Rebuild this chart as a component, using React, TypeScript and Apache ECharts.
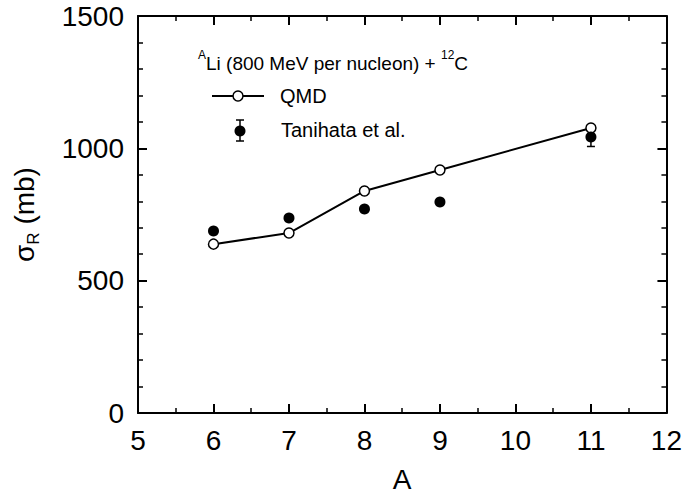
import React, { useEffect, useRef } from "react";
import * as echarts from "echarts";

const qmdA = [6, 7, 8, 9, 11];
const qmdSigma = [638, 680, 839, 918, 1077];
const expA = [6, 7, 8, 9, 11];
const expSigma = [688, 737, 771, 797, 1043];
const expErr = [0, 0, 0, 0, 36];

const FONT = "Liberation Sans, Arial, sans-serif";

export default function App() {
  const ref = useRef<HTMLDivElement>(null);
  useEffect(() => {
    if (!ref.current) return;
    const chart = echarts.init(ref.current, undefined, { renderer: "svg" });
    const tickCommon = {
      axisLine: { show: true, onZero: false, lineStyle: { color: "#000", width: 2 } },
      axisTick: { show: true, inside: true, length: 9, lineStyle: { color: "#000", width: 2 } },
      splitLine: { show: false },
    };
    const xBase = {
      type: "value" as const,
      min: 5,
      max: 12,
      interval: 1,
      ...tickCommon,
      minorTick: { show: true, splitNumber: 2, length: 5, lineStyle: { color: "#000", width: 1.5 } },
    };
    const yBase = {
      type: "value" as const,
      min: 0,
      max: 1500,
      interval: 500,
      ...tickCommon,
      minorTick: { show: true, splitNumber: 5, length: 5, lineStyle: { color: "#000", width: 1.5 } },
    };
    const errData = expA
      .map((a, i) => [a, expSigma[i] - expErr[i], expSigma[i] + expErr[i]])
      .filter((d, i) => expErr[i] > 0);

    chart.setOption({
      animation: false,
      textStyle: { fontFamily: FONT },
      grid: { left: 138, top: 16, right: 18, bottom: 86, containLabel: false },
      xAxis: [
        {
          ...xBase,
          position: "bottom",
          axisLabel: { fontSize: 28, color: "#000", margin: 13, fontFamily: FONT, formatter: (v: number) => String(v) },
          name: "A",
          nameLocation: "middle",
          nameGap: 52,
          nameTextStyle: { fontSize: 28, color: "#000", fontFamily: FONT },
        },
        { ...xBase, position: "top", axisLabel: { show: false } },
      ],
      yAxis: [
        {
          ...yBase,
          position: "left",
          axisLabel: { fontSize: 28, color: "#000", margin: 14, fontFamily: FONT, formatter: (v: number) => String(v) },
          name: "{a|σ}{b|R}{a| (mb)}",
          nameLocation: "middle",
          nameGap: 96,
          nameTextStyle: {
            color: "#000",
            fontFamily: FONT,
            rich: {
              a: { fontSize: 28, lineHeight: 36, color: "#000", fontFamily: FONT, verticalAlign: "middle" },
              b: { fontSize: 17, lineHeight: 36, color: "#000", fontFamily: FONT, verticalAlign: "bottom" },
            },
          },
        },
        { ...yBase, position: "right", axisLabel: { show: false } },
      ],
      series: [
        {
          type: "line",
          data: qmdA.map((a, i) => [a, qmdSigma[i]]),
          symbol: "circle",
          symbolSize: 10,
          lineStyle: { color: "#000", width: 2 },
          itemStyle: { color: "#fff", borderColor: "#000", borderWidth: 1.5, opacity: 1 },
          z: 3,
        },
        {
          type: "custom",
          data: errData,
          renderItem: (params: any, api: any) => {
            const x = api.value(0);
            const lo = api.coord([x, api.value(1)]);
            const hi = api.coord([x, api.value(2)]);
            const cap = 4;
            const st = { stroke: "#000", lineWidth: 1.5 };
            return {
              type: "group",
              children: [
                { type: "line", shape: { x1: lo[0], y1: lo[1], x2: hi[0], y2: hi[1] }, style: st },
                { type: "line", shape: { x1: lo[0] - cap, y1: lo[1], x2: lo[0] + cap, y2: lo[1] }, style: st },
                { type: "line", shape: { x1: hi[0] - cap, y1: hi[1], x2: hi[0] + cap, y2: hi[1] }, style: st },
              ],
            };
          },
          z: 2,
        },
        {
          type: "scatter",
          data: expA.map((a, i) => [a, expSigma[i]]),
          symbol: "circle",
          symbolSize: 11,
          itemStyle: { color: "#000", opacity: 1 },
          z: 4,
        },
      ],
      graphic: [
        {
          type: "text",
          left: 198,
          top: 49,
          style: {
            text: "{s|A}{n|Li (800 MeV per nucleon) + }{s|12}{n|C}",
            fill: "#000",
            rich: {
              n: { fontSize: 19, lineHeight: 24, fontFamily: FONT, fill: "#000", verticalAlign: "bottom" },
              s: { fontSize: 12, lineHeight: 24, fontFamily: FONT, fill: "#000", verticalAlign: "top" },
            },
          },
        },
        { type: "line", shape: { x1: 212, y1: 96, x2: 264, y2: 96 }, style: { stroke: "#000", lineWidth: 2 } },
        { type: "circle", shape: { cx: 238, cy: 96, r: 5 }, style: { fill: "#fff", stroke: "#000", lineWidth: 1.5 } },
        {
          type: "text",
          x: 280,
          y: 96,
          style: { text: "QMD", fontSize: 20, fontFamily: FONT, fill: "#000", verticalAlign: "middle" },
        },
        { type: "line", shape: { x1: 240, y1: 120, x2: 240, y2: 141 }, style: { stroke: "#000", lineWidth: 1.5 } },
        { type: "line", shape: { x1: 236, y1: 120, x2: 244, y2: 120 }, style: { stroke: "#000", lineWidth: 1.5 } },
        { type: "line", shape: { x1: 236, y1: 141, x2: 244, y2: 141 }, style: { stroke: "#000", lineWidth: 1.5 } },
        { type: "circle", shape: { cx: 240, cy: 131, r: 5.5 }, style: { fill: "#000" } },
        {
          type: "text",
          x: 281,
          y: 130,
          style: { text: "Tanihata et al.", fontSize: 20, fontFamily: FONT, fill: "#000", verticalAlign: "middle" },
        },
      ],
    });
    return () => chart.dispose();
  }, []);
  return (
    <div
      ref={ref}
      style={{ position: "absolute", left: 0, top: 0, width: 685, height: 499, background: "#fff" }}
    />
  );
}
